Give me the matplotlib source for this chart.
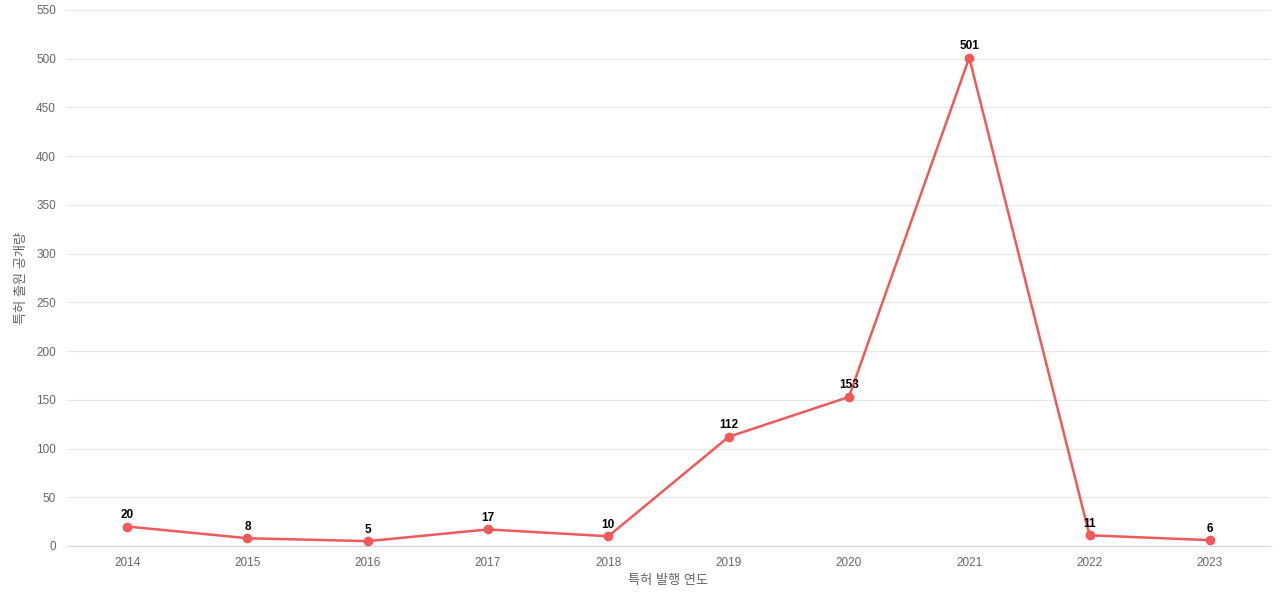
import matplotlib
matplotlib.use("Agg")
import matplotlib.pyplot as plt

plt.rcParams['font.family'] = ['Liberation Sans', 'Noto Sans CJK KR', 'DejaVu Sans']

years = ["2014","2015","2016","2017","2018","2019","2020","2021","2022","2023"]
counts = [20, 8, 5, 17, 10, 112, 153, 501, 11, 6]
yticks = list(range(0, 551, 50))

fig = plt.figure(figsize=(12.8, 6), dpi=100)
ax = fig.add_axes([67/1280, 1-546/600, 1203/1280, 536/600])
x = list(range(len(years)))
color = "#ee5a5a"
ax.plot(x, counts, color=color, lw=1.8, marker='o', ms=6, zorder=3)
for xi, v in zip(x, counts):
    ax.annotate(str(v), (xi, v), xytext=(0, 4), textcoords='offset points',
                ha='center', va='bottom', fontsize=8.5, fontweight='bold', color='black')
ax.set_xlim(-0.5, len(years) - 0.5)
ax.set_ylim(0, 550)
ax.set_yticks(yticks)
ax.set_xticks(x)
ax.set_xticklabels(years)
ax.tick_params(length=0, labelsize=8.5, colors='#666666', pad=8)
ax.grid(axis='y', color='#e6e6e6', lw=0.8)
ax.set_axisbelow(True)
for s in ['top', 'right', 'left']:
    ax.spines[s].set_visible(False)
ax.spines['bottom'].set_color('#ccd6eb')
ax.set_xlabel("특허 발행 연도", fontsize=9.5, color='#666666', labelpad=4)
ax.set_ylabel("특허 출원 공개량", fontsize=9.5, color='#666666', labelpad=6)
fig.savefig("out.png")
